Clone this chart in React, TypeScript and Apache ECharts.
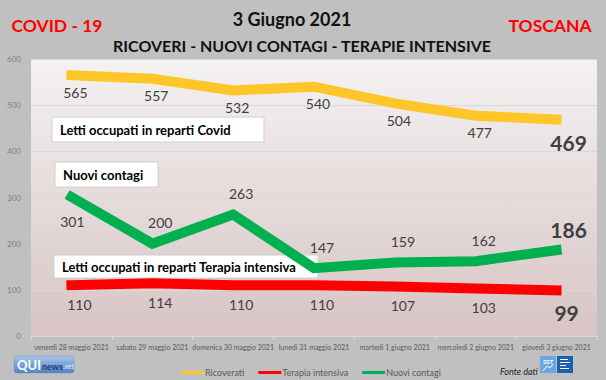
import React, { useEffect, useRef } from "react";
import * as echarts from "echarts";

const categories = [
  "venerdì 28 maggio 2021",
  "sabato 29 maggio 2021",
  "domenica 30 maggio 2021",
  "lunedì 31 maggio 2021",
  "martedì 1 giugno 2021",
  "mercoledì 2 giugno 2021",
  "giovedì 3 giugno 2021",
];
const ricoverati = [565, 557, 532, 540, 504, 477, 469];
const terapiaIntensiva = [110, 114, 110, 110, 107, 103, 99];
const nuoviContagi = [301, 200, 263, 147, 159, 162, 186];
const yTicks = { min: 0, max: 600, interval: 100 };

const LABEL_COLOR = "#404040";
const FONT = "Lato, 'Open Sans', sans-serif";

function seriesData(values: number[], offsets: (i: number) => number[]) {
  const last = values.length - 1;
  return values.map((v, i) => ({
    value: v,
    label:
      i === last
        ? { offset: offsets(i), fontSize: 21, fontWeight: "bold" as const }
        : { offset: offsets(i) },
  }));
}

export default function App() {
  const ref = useRef<HTMLDivElement>(null);
  useEffect(() => {
    if (!ref.current) return;
    const chart = echarts.init(ref.current, undefined, { renderer: "svg" });
    const baseLabel = {
      show: true,
      position: "inside" as const,
      color: LABEL_COLOR,
      fontSize: 14,
      fontFamily: FONT,
    };
    const lineSeries = (name: string, color: string, values: number[], off: (i: number) => number[], z: number) => ({
      name,
      type: "line" as const,
      data: seriesData(values, off),
      symbol: "circle",
      symbolSize: 2,
      showSymbol: true,
      itemStyle: { color },
      lineStyle: { color, width: 10, cap: "square" as const, join: "miter" as const },
      label: baseLabel,
      z,
      emphasis: { disabled: true },
    });
    const box = (x: number, y: number, w: number, h: number, text: string) => ({
      type: "group",
      x,
      y,
      z: 100,
      children: [
        { type: "rect", shape: { x: 0, y: 0, width: w, height: h }, style: { fill: "#ffffff", stroke: "#d0d0d0", lineWidth: 1 } },
        {
          type: "text",
          x: 8,
          y: h / 2,
          style: { text, fill: "#000000", font: `bold 13px ${FONT}`, textVerticalAlign: "middle" },
        },
      ],
    });
    chart.setOption({
      animation: false,
      backgroundColor: "#c0c0c0",
      grid: {
        left: 31,
        right: 9,
        top: 59,
        bottom: 44,
        show: true,
        borderWidth: 0,
        backgroundColor: new echarts.graphic.LinearGradient(0, 0, 0, 1, [
          { offset: 0, color: "#f4f2f2" },
          { offset: 1, color: "#d8c4c4" },
        ]),
      },
      legend: {
        left: 176,
        top: 363,
        itemWidth: 23,
        itemHeight: 3,
        itemGap: 14,
        icon: "rect",
        textStyle: { color: "#595959", fontSize: 9, fontFamily: FONT, padding: [0, 0, 0, -4] },
        data: ["Ricoverati", "Terapia intensiva", "Nuovi contagi"],
      },
      xAxis: {
        type: "category",
        data: categories,
        boundaryGap: true,
        axisLine: { show: true, lineStyle: { color: "#d9d9d9" } },
        axisTick: { show: true, length: 4, lineStyle: { color: "#d9d9d9" } },
        axisLabel: { interval: 0, color: "#595959", fontSize: 7, fontFamily: FONT, margin: 7 },
      },
      yAxis: {
        type: "value",
        min: yTicks.min,
        max: yTicks.max,
        interval: yTicks.interval,
        axisLine: { show: false },
        axisTick: { show: false },
        splitLine: { lineStyle: { color: "#d9d9d9", width: 1 } },
        axisLabel: { color: "#7f7f7f", fontSize: 8, fontFamily: FONT, margin: 10 },
      },
      series: [
        lineSeries("Ricoverati", "#ffc629", ricoverati, (i) => (i === 6 ? [12, 23] : [4, 17]), 3),
        lineSeries("Terapia intensiva", "#ff0000", terapiaIntensiva, (i) => (i === 6 ? [10, 22] : [8, 19]), 3),
        lineSeries("Nuovi contagi", "#00b050", nuoviContagi, (i) => (i === 0 ? [1, 24] : i === 6 ? [12, -21] : [8, -21]), 3),
      ],
      graphic: [
        { type: "text", x: 57, y: 25, style: { text: "COVID - 19", fill: "#ff0000", font: `bold 17.5px ${FONT}`, textAlign: "center", textVerticalAlign: "middle" } },
        { type: "text", x: 292, y: 19, style: { text: "3 Giugno 2021", fill: "#111111", font: `bold 18px ${FONT}`, textAlign: "center", textVerticalAlign: "middle" } },
        { type: "text", x: 550, y: 25, style: { text: "TOSCANA", fill: "#ff0000", font: `bold 17.5px ${FONT}`, textAlign: "center", textVerticalAlign: "middle" } },
        { type: "text", x: 302, y: 45, style: { text: "RICOVERI - NUOVI CONTAGI - TERAPIE INTENSIVE", fill: "#111111", font: `bold 16px ${FONT}`, textAlign: "center", textVerticalAlign: "middle" } },
        box(52, 117, 212, 25, "Letti occupati in reparti Covid"),
        box(55, 162, 103, 25, "Nuovi contagi"),
        box(54, 255, 264, 23, "Letti occupati in reparti Terapia intensiva"),
        // QUInews logo
        {
          type: "group",
          x: 14,
          y: 356,
          children: [
            {
              type: "rect",
              shape: { x: 0, y: 0, width: 60, height: 17, r: 3 },
              style: {
                fill: new echarts.graphic.LinearGradient(0, 0, 0, 1, [
                  { offset: 0, color: "#a8c6ea" },
                  { offset: 1, color: "#4f82c4" },
                ]),
                stroke: "#6f93c0",
                lineWidth: 0.5,
              },
            },
            { type: "text", x: 3, y: 9, style: { text: "QUI", fill: "#ffffff", font: `bold 13px ${FONT}`, textVerticalAlign: "middle" } },
            { type: "text", x: 28, y: 10, style: { text: "news", fill: "#1f3a68", font: `bold 9px ${FONT}`, textVerticalAlign: "middle" } },
            { type: "text", x: 49, y: 10, style: { text: ".net", fill: "#e8f0fa", font: `italic 7px ${FONT}`, textVerticalAlign: "middle" } },
          ],
        },
        { type: "text", x: 500, y: 371, style: { text: "Fonte dati", fill: "#222222", font: `italic 9px ${FONT}`, textVerticalAlign: "middle" } },
        // SST logo
        {
          type: "group",
          x: 540,
          y: 356,
          children: [
            { type: "rect", shape: { x: 0, y: 0, width: 16, height: 17 }, style: { fill: "#6aa6e0" } },
            { type: "text", x: 8, y: 5, style: { text: "SST", fill: "#ffffff", font: `bold 6px ${FONT}`, textAlign: "center", textVerticalAlign: "middle" } },
            { type: "polyline", shape: { points: [[3, 15], [7, 10], [10, 12], [13, 8]] }, style: { stroke: "#ffffff", lineWidth: 1, fill: null } },
            { type: "rect", shape: { x: 17, y: 0, width: 16, height: 17 }, style: { fill: "#1f5fb0" } },
            { type: "rect", shape: { x: 20, y: 3, width: 8, height: 1 }, style: { fill: "#ffffff" } },
            { type: "rect", shape: { x: 20, y: 6, width: 10, height: 1 }, style: { fill: "#ffffff" } },
            { type: "rect", shape: { x: 20, y: 9, width: 6, height: 1 }, style: { fill: "#ffffff" } },
            { type: "rect", shape: { x: 20, y: 12, width: 9, height: 1 }, style: { fill: "#ffffff" } },
          ],
        },
      ],
    });
    return () => chart.dispose();
  }, []);
  return <div ref={ref} style={{ position: "fixed", left: 0, top: 0, width: 606, height: 380 }} />;
}
